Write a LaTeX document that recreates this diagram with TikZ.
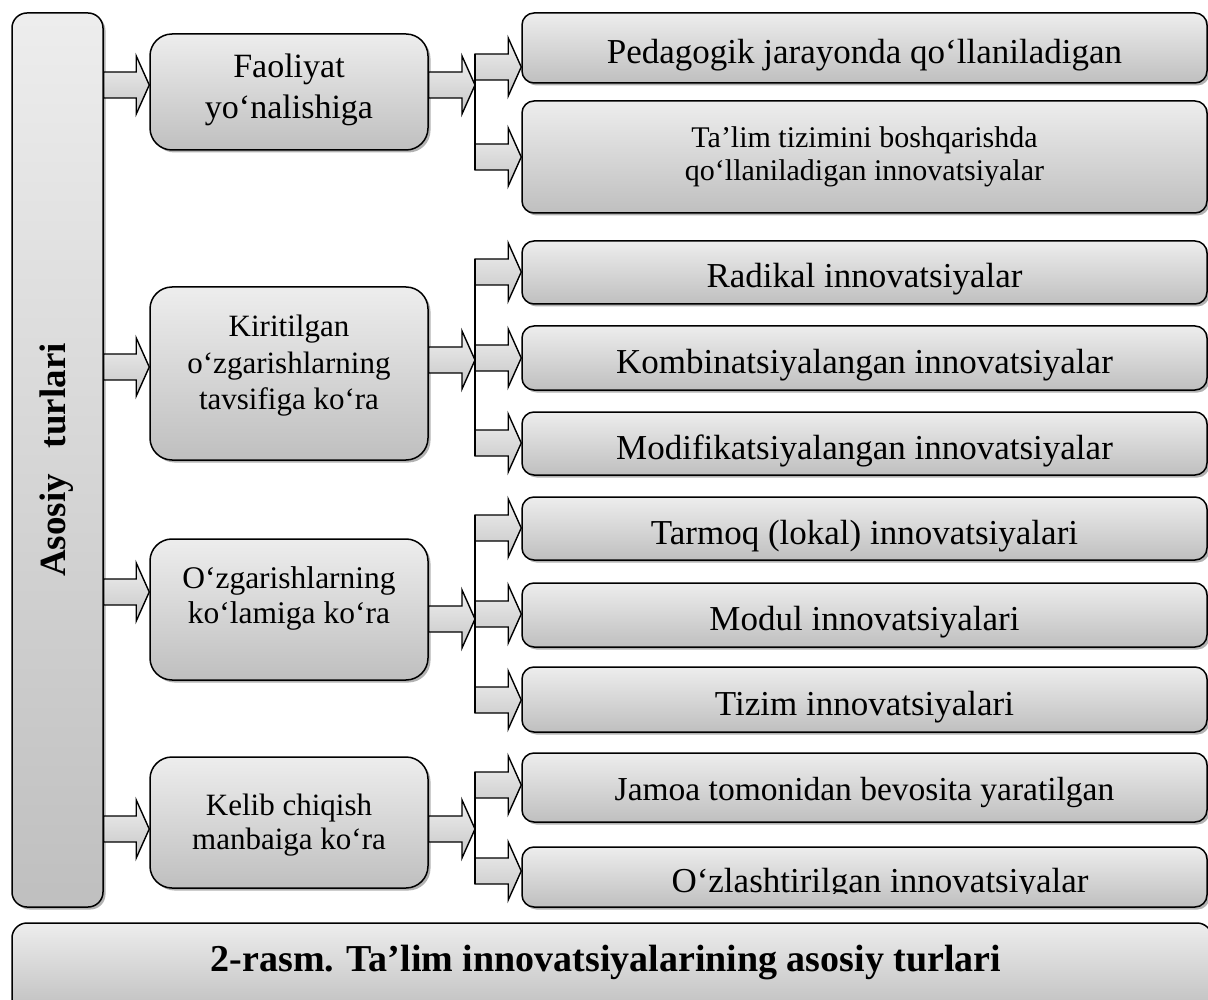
\documentclass[tikz,border=0pt]{standalone}
\usepackage{fontspec}
\setmainfont{Liberation Serif}
\usetikzlibrary{shadows,calc}

% block arrow from #1 to the tip #2 (same height)
\newcommand{\fatarrow}[2]{%
  \draw[fatarr] let \p1=#1, \p2=#2 in
    (\x1,\y2+13pt) -- (\x2-13pt,\y2+13pt) -- (\x2-13pt,\y2+29pt) -- (\x2,\y2)
    -- (\x2-13pt,\y2-29pt) -- (\x2-13pt,\y2-13pt) -- (\x1,\y2-13pt) -- cycle;}

\begin{document}
\begin{tikzpicture}[x=1pt,y=-1pt,
    box/.style={draw,line width=1.5pt,rounded corners=15pt,inner sep=0pt,
      top color=gray!14,bottom color=gray!50,
      drop shadow={shadow xshift=2.5pt,shadow yshift=-2.5pt,fill=black!55,opacity=0.55}},
    mid/.style={box,rounded corners=22pt,minimum width=278pt},
    rshape/.style={box,rounded corners=12pt,minimum width=685pt},
    rbox/.style={rshape,font=\fontsize{35}{40}\selectfont,text height=31pt,text depth=0pt},
    fatarr/.style={line width=1.4pt,draw,top color=gray!12,bottom color=gray!45},
    fork/.style={line width=1.6pt}]
  \useasboundingbox (0,0) rectangle (1208,1000);
  \clip (0,0) rectangle (1208,1000);

  % left column
  \node[box,minimum width=91pt,minimum height=894pt] (asosiy) at (57.5,460) {};
  \node[rotate=90,font=\bfseries\fontsize{37}{40}\selectfont] (asosiyt) at (57,460) {Asosiy\hspace{0.45em} turlari};

  % second column
  \node[mid,minimum height=116pt] (fao) at (289,92) {};
  \node[mid,minimum height=173pt] (kir) at (289,373.5) {};
  \node[mid,minimum height=141pt] (ozg) at (289,609.5) {};
  \node[mid,minimum height=131pt] (kel) at (289,822.5) {};

  \node[align=center,font=\fontsize{34}{41}\selectfont] (faot) at (289,90) {Faoliyat\\yo‘nalishiga};
  \node[align=center,font=\fontsize{31}{36.5}\selectfont] (kirt) at (289,366) {Kiritilgan\\o‘zgarishlarning\\tavsifiga ko‘ra};
  \node[align=center,font=\fontsize{31.5}{35}\selectfont] (ozgt) at (289,598) {O‘zgarishlarning\\ko‘lamiga ko‘ra};
  \node[align=center,font=\fontsize{31}{34}\selectfont] (kelt) at (289,825) {Kelib chiqish\\manbaiga ko‘ra};

  % right column
  \node[rbox,minimum height=70pt] (ped) at (864.5,48) {Pedagogik jarayonda qo‘llaniladigan};
  \node[rshape,minimum height=112pt,align=center,font=\fontsize{30}{33}\selectfont] (tiz) at (864.5,157) {Ta’lim tizimini boshqarishda\\qo‘llaniladigan innovatsiyalar};
  \node[rbox,minimum height=63pt] (rad) at (864.5,272.5) {Radikal innovatsiyalar};
  \node[rbox,minimum height=64pt] (kom) at (864.5,358) {Kombinatsiyalangan innovatsiyalar};
  \node[rbox,minimum height=63pt] (mod) at (864.5,443.5) {Modifikatsiyalangan innovatsiyalar};
  \node[rbox,minimum height=63pt] (tar) at (864.5,528.5) {Tarmoq (lokal) innovatsiyalari};
  \node[rbox,minimum height=64pt] (mdl) at (864.5,615) {Modul innovatsiyalari};
  \node[rbox,minimum height=65pt] (tzm) at (864.5,699.5) {Tizim innovatsiyalari};
  \node[rbox,minimum height=69pt,font=\fontsize{33.5}{40}\selectfont,text height=25pt] (jam) at (864.5,787.5) {Jamoa tomonidan bevosita yaratilgan};
  \node[rshape,minimum height=60pt] (ozl) at (864.5,877) {};
  \begin{scope}
    \clip (522,847) rectangle (1207,893);
    \node[font=\fontsize{35}{40}\selectfont,anchor=base] (ozlt) at (880,892) {O‘zlashtirilgan innovatsiyalar};
  \end{scope}

  % caption
  \node[box,minimum width=1200pt,minimum height=90pt] (cap) at (612,968) {};
  \node[font=\bfseries\fontsize{38}{40}\selectfont] (capt) at (606,963) {2-rasm. Ta’lim innovatsiyalarining asosiy turlari};

  % fork points
  \coordinate (f1) at (475,85);
  \coordinate (f2) at (475,360);
  \coordinate (f3) at (475,619);
  \coordinate (f4) at (475,829);

  % arrows from the left column
  \fatarrow{(asosiy.east)}{(fao.west |- 0,85)}
  \fatarrow{(asosiy.east)}{(kir.west |- 0,367)}
  \fatarrow{(asosiy.east)}{(ozg.west |- 0,592)}
  \fatarrow{(asosiy.east)}{(kel.west |- 0,829)}

  % arrows to the forks
  \fatarrow{(fao.east)}{(f1)}
  \fatarrow{(kir.east)}{(f2)}
  \fatarrow{(ozg.east)}{(f3)}
  \fatarrow{(kel.east)}{(f4)}

  % branches
  \fatarrow{(f1)}{(ped.west |- 0,67)}
  \fatarrow{(f1)}{(tiz.west |- 0,157)}
  \fatarrow{(f2)}{(rad.west |- 0,272)}
  \fatarrow{(f2)}{(kom.west |- 0,358)}
  \fatarrow{(f2)}{(mod.west |- 0,443)}
  \fatarrow{(f3)}{(tar.west |- 0,528)}
  \fatarrow{(f3)}{(mdl.west |- 0,614)}
  \fatarrow{(f3)}{(tzm.west |- 0,700)}
  \fatarrow{(f4)}{(jam.west |- 0,785)}
  \fatarrow{(f4)}{(ozl.west |- 0,871)}

  \draw[fork] (f1 |- 0,54) -- (f1 |- 0,170);
  \draw[fork] (f2 |- 0,259) -- (f2 |- 0,456);
  \draw[fork] (f3 |- 0,515) -- (f3 |- 0,713);
  \draw[fork] (f4 |- 0,772) -- (f4 |- 0,884);
\end{tikzpicture}
\end{document}
